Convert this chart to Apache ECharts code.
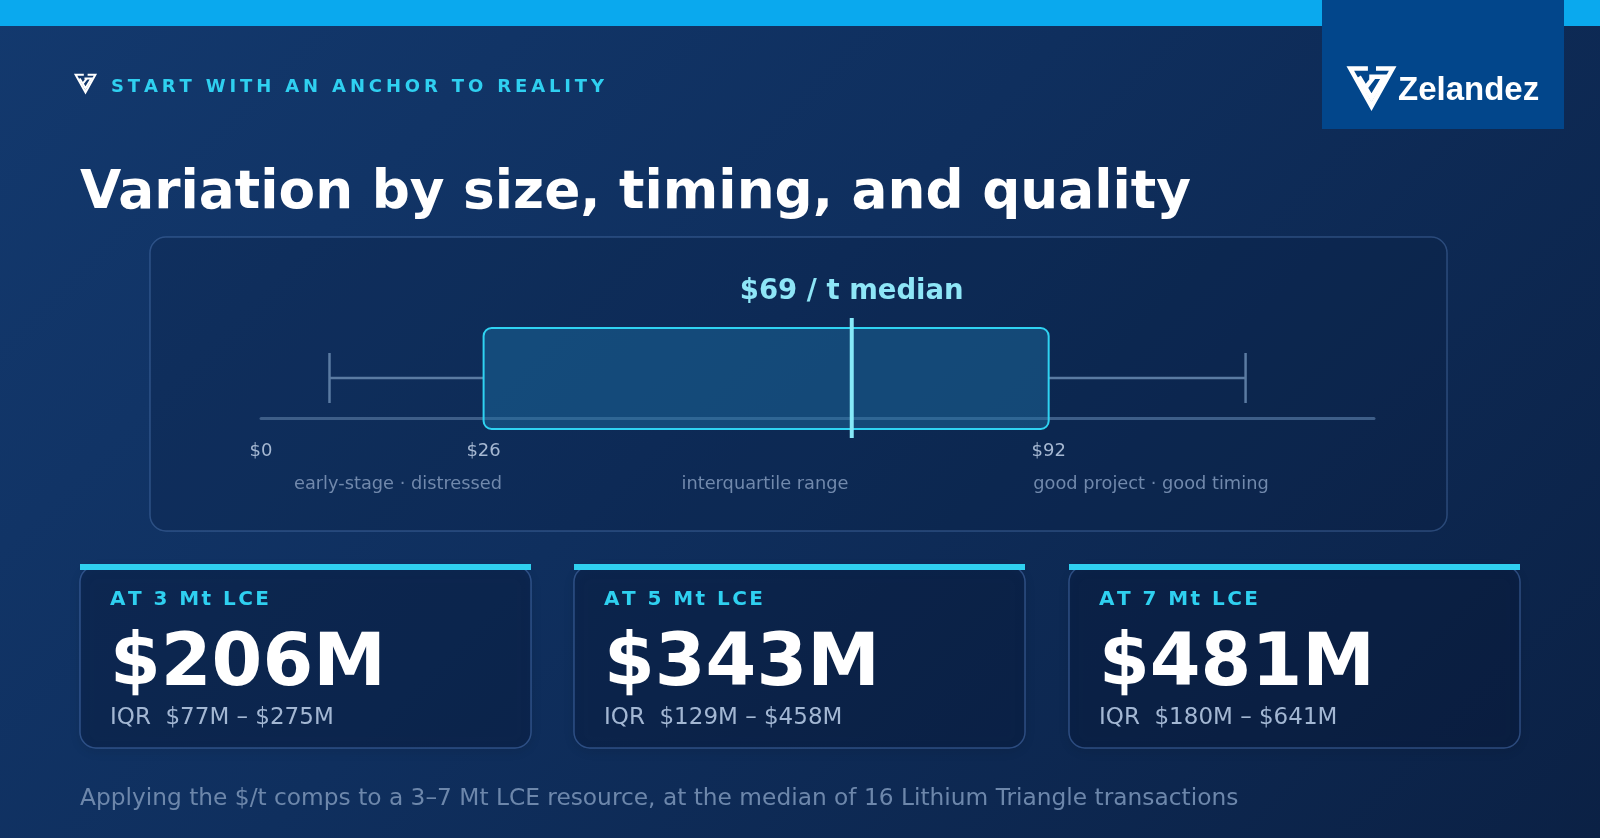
<!DOCTYPE html>
<html>
<head>
<meta charset="utf-8">
<script src="https://cdn.jsdelivr.net/npm/echarts@6/dist/echarts.min.js"></script>
<style>
  html, body { margin: 0; padding: 0; }
  #main {
    width: 1600px; height: 838px;
    background: linear-gradient(135deg, #13396e 0%, #0f2f5e 45%, #0b2145 100%);
  }
</style>
</head>
<body>
<div id="main"></div>
<script>
// whisker low, Q1, median, Q3, whisker high  ($ per t)
const boxStats = [8, 26, 69, 92, 115];
const axisMax = 130;
const tickValues = [0, 26, 92];
const rangeNotes = ['early-stage · distressed', 'interquartile range', 'good project · good timing'];

const resourceSizes = [3, 5, 7];
const medianValues = ['$206M', '$343M', '$481M'];
const iqrLow = ['$77M', '$129M', '$180M'];
const iqrHigh = ['$275M', '$458M', '$641M'];

const FONT = '"DejaVu Sans", sans-serif';
const CYAN = '#2fd0f0';

const measure = document.createElement('canvas').getContext('2d');

// echarts text has no letter spacing, so place the characters one by one
function spacedText(str, x, y, size, width, color) {
    measure.font = 'bold ' + size + 'px ' + FONT;
    const chars = Array.from(str);
    const natural = chars.reduce((s, c) => s + measure.measureText(c).width, 0);
    const gap = (width - natural) / (chars.length - 1);
    const out = [];
    let cx = x;
    chars.forEach(c => {
        out.push({
            type: 'text', x: cx, y: y,
            style: {text: c, fill: color, font: 'bold ' + size + 'px ' + FONT, align: 'left', verticalAlign: 'middle'}
        });
        cx += measure.measureText(c).width + gap;
    });
    return out;
}

function logoMark(x, y, w, lw) {
    const h = w * 0.9;
    const p = (a, b) => [x + a * w, y + b * h];
    const st = {stroke: '#fff', lineWidth: lw, fill: null, lineJoin: 'miter'};
    return [
        {type: 'polyline', shape: {points: [p(0.42, 0.04), p(0.03, 0.04), p(0.5, 0.97), p(0.97, 0.04), p(0.6, 0.04)]}, style: st},
        {type: 'polyline', shape: {points: [p(0.22, 0.24), p(0.5, 0.76), p(0.78, 0.24), p(0.45, 0.24)]}, style: st},
        {type: 'polyline', shape: {points: [p(0.36, 0.52), p(0.56, 0.24)]}, style: st}
    ];
}

const graphics = [];

// top strip + logo block
graphics.push({type: 'rect', z: -1, shape: {x: 0, y: 0, width: 1600, height: 26}, style: {fill: '#0aa9ee'}});
graphics.push({type: 'rect', z: -1, shape: {x: 1322, y: 0, width: 242, height: 129}, style: {fill: '#02468b'}});
logoMark(1349, 67, 45, 4.5).forEach(g => graphics.push(g));
graphics.push({type: 'text', x: 1398, y: 91, style: {text: 'Zelandez', fill: '#fff', font: 'bold 33px "Liberation Sans", sans-serif', verticalAlign: 'middle'}});

// kicker + headline
logoMark(75, 74, 21, 2).forEach(g => graphics.push(g));
spacedText('START WITH AN ANCHOR TO REALITY', 111, 87, 18, 493, CYAN).forEach(g => graphics.push(g));
graphics.push({type: 'text', x: 80, y: 194, style: {text: 'Variation by size, timing, and quality', fill: '#fff', font: 'bold 53.3px ' + FONT, verticalAlign: 'middle'}});

// chart panel
graphics.push({type: 'rect', z: -1, shape: {x: 150, y: 237, width: 1297, height: 294, r: 16},
    style: {fill: 'rgba(8,26,58,0.22)', stroke: 'rgba(90,130,190,0.4)', lineWidth: 1.5}});

// notes under the axis
[398, 765, 1151].forEach((cx, i) => {
    graphics.push({type: 'text', x: cx, y: 484, style: {text: rangeNotes[i], fill: '#7189ac', font: '17.8px ' + FONT, align: 'center', verticalAlign: 'middle'}});
});

// stat cards
const cardX = [80, 574, 1069];
resourceSizes.forEach((s, i) => {
    const x = cardX[i];
    graphics.push({type: 'rect', z: -1, shape: {x: x, y: 566, width: 451, height: 182, r: 16},
        style: {fill: 'rgba(8,26,60,0.35)', stroke: 'rgba(80,120,185,0.5)', lineWidth: 1.5,
            shadowBlur: 12, shadowColor: 'rgba(0,0,0,0.25)', shadowOffsetY: 3}});
    graphics.push({type: 'rect', shape: {x: x, y: 564, width: 451, height: 6}, style: {fill: CYAN}});
    spacedText('AT ' + s + ' Mt LCE', x + 30, 600, 20, 159, CYAN).forEach(g => graphics.push(g));
    graphics.push({type: 'text', x: x + 30, y: 666, style: {text: medianValues[i], fill: '#fff', font: 'bold 73px ' + FONT, verticalAlign: 'middle'}});
    graphics.push({type: 'text', x: x + 30, y: 718, style: {text: 'IQR  ' + iqrLow[i] + ' – ' + iqrHigh[i], fill: '#a3b7d3', font: '23px ' + FONT, verticalAlign: 'middle'}});
});

graphics.push({type: 'text', x: 80, y: 799, style: {
    text: 'Applying the $/t comps to a 3–7 Mt LCE resource, at the median of 16 Lithium Triangle transactions',
    fill: '#6d87ab', font: '23.3px ' + FONT, verticalAlign: 'middle'}});

const chart = echarts.init(document.getElementById('main'));

chart.setOption({
    animation: false,
    graphic: {elements: graphics},
    grid: {left: 261, right: 226, top: 318, height: 100},
    xAxis: {
        type: 'value', min: 0, max: axisMax,
        axisLine: {show: true, lineStyle: {color: '#3e5e88', width: 3}},
        axisTick: {show: false},
        splitLine: {show: false},
        axisLabel: {
            customValues: tickValues,
            formatter: v => '$' + v,
            color: '#a6b8d2', fontSize: 18, fontFamily: 'DejaVu Sans', margin: 24
        }
    },
    yAxis: {type: 'value', min: 0, max: 1, show: false},
    series: [{
        type: 'custom',
        clip: false,
        data: [boxStats],
        renderItem: (params, api) => {
            const px = v => api.coord([v, 0])[0];
            const base = api.coord([0, 0])[1];
            const cy = base - 40;
            const lo = px(api.value(0)), q1 = px(api.value(1)), med = px(api.value(2)),
                  q3 = px(api.value(3)), hi = px(api.value(4));
            const whisker = {stroke: '#5b7ba2', lineWidth: 2.5};
            return {
                type: 'group',
                children: [
                    {type: 'line', shape: {x1: lo, y1: cy, x2: q1, y2: cy}, style: whisker},
                    {type: 'line', shape: {x1: q3, y1: cy, x2: hi, y2: cy}, style: whisker},
                    {type: 'line', shape: {x1: lo, y1: cy - 25, x2: lo, y2: cy + 25}, style: whisker},
                    {type: 'line', shape: {x1: hi, y1: cy - 25, x2: hi, y2: cy + 25}, style: whisker},
                    {type: 'rect', shape: {x: q1, y: cy - 50, width: q3 - q1, height: 101, r: 8},
                        style: {fill: 'rgba(28,112,165,0.45)', stroke: '#2fd3f2', lineWidth: 2}},
                    {type: 'line', shape: {x1: med, y1: cy - 60, x2: med, y2: cy + 60},
                        style: {stroke: '#86e9f8', lineWidth: 4}},
                    {type: 'text', x: med, y: cy - 86,
                        style: {text: '$' + api.value(2) + ' / t median', fill: '#8ee6f7',
                            font: 'bold 27.5px ' + FONT, align: 'center', verticalAlign: 'middle'}}
                ]
            };
        }
    }]
});
</script>
</body>
</html>
